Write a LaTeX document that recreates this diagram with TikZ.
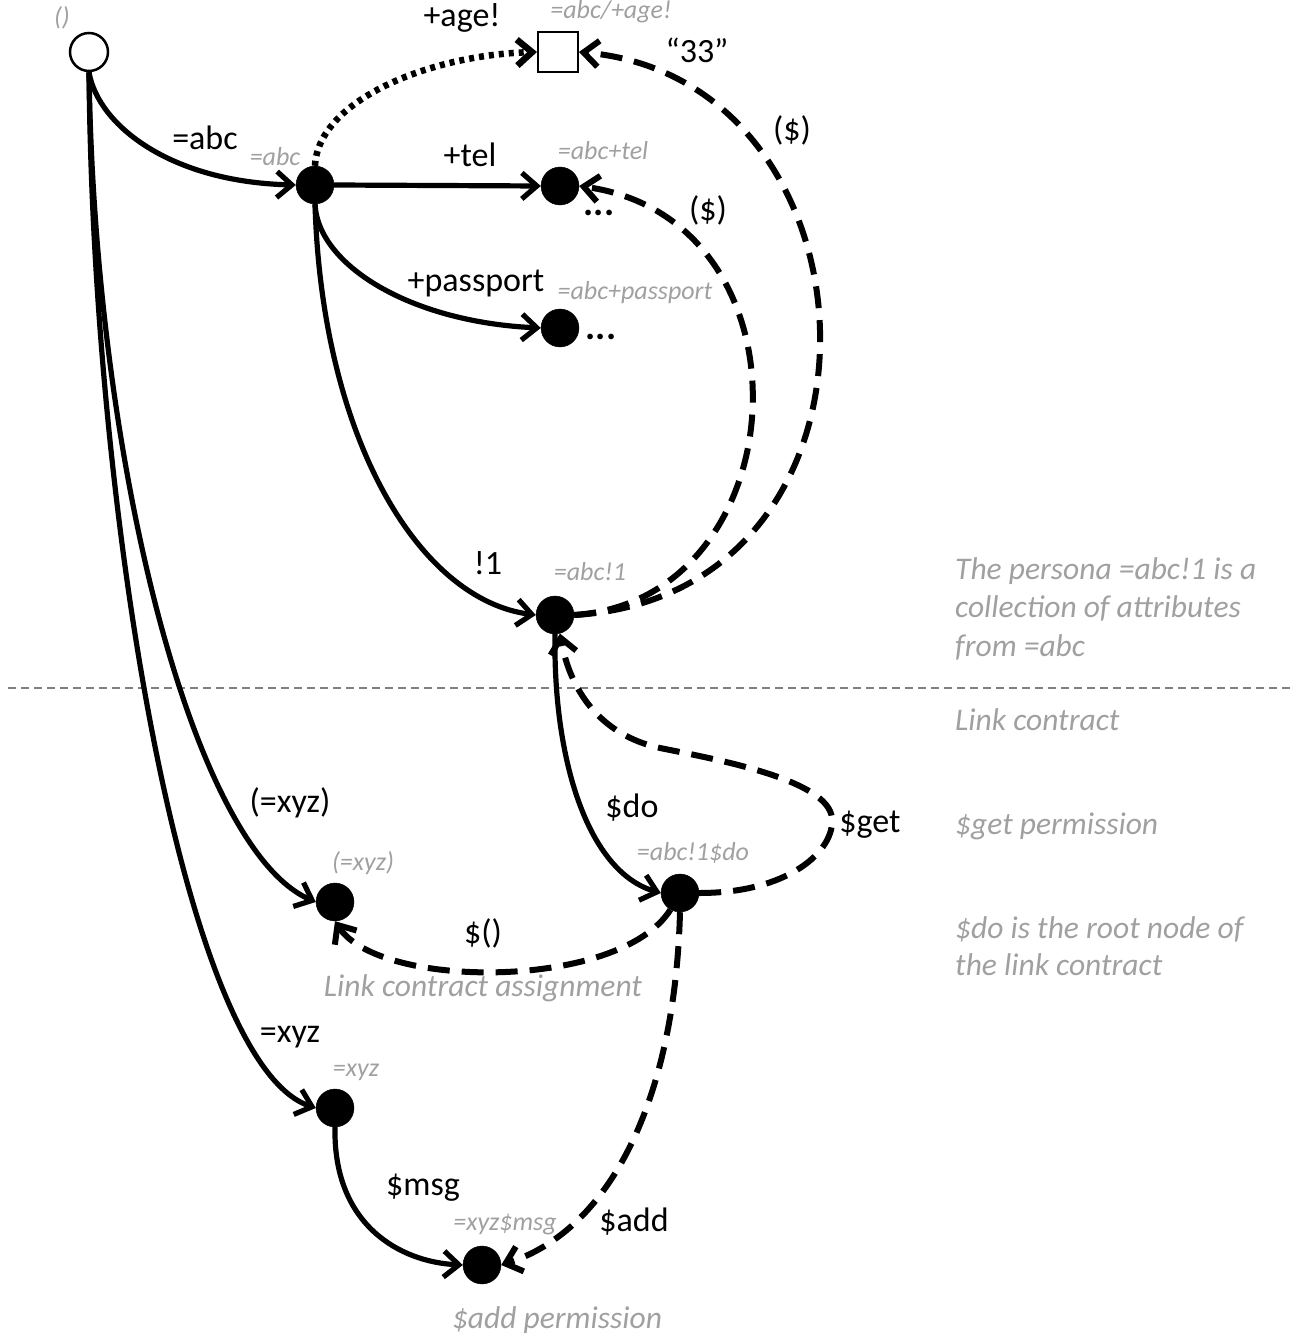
\documentclass[tikz,border=0pt]{standalone}
\usepackage{fontspec}
\setmainfont{Carlito}
\usetikzlibrary{arrows.meta}
\definecolor{lblgray}{RGB}{160,160,160}
\tikzset{
  dotnode/.style={circle, fill=black, draw=black, minimum size=38pt, inner sep=0pt},
  rootnode/.style={circle, fill=white, draw=black, line width=2.5pt, minimum size=38pt, inner sep=0pt},
  sqnode/.style={rectangle, fill=white, draw=black, line width=2pt, minimum size=40pt, inner sep=0pt},
  tip/.tip={Straight Barb[length=15pt, width=26pt]},
  edge/.style={line width=5.2pt, -tip},
  dashedge/.style={line width=6pt, dash pattern=on 22pt off 12pt, -tip},
  dotedge/.style={line width=6.5pt, dash pattern=on 5pt off 5pt, -tip},
  lbl/.style={inner sep=0pt, font=\fontsize{34}{37}\selectfont},
  glbl/.style={inner sep=0pt, text=lblgray, font=\fontsize{26}{30}\selectfont\itshape},
  note/.style={inner sep=0pt, text=lblgray, anchor=west, font=\fontsize{31.5}{36}\selectfont\itshape}
}
\begin{document}
\begin{tikzpicture}[x=1pt, y=-1pt]
\useasboundingbox (0,0) rectangle (1296,1340);
% nodes
\node[rootnode] (root) at (89,52) {};
\node[dotnode] (abc) at (315,185) {};
\node[sqnode] (age) at (558,52) {};
\node[dotnode] (tel) at (560,186) {};
\node[dotnode] (pass) at (560,328) {};
\node[dotnode] (abc1) at (555,615) {};
\node[dotnode] (pxyz) at (335,902) {};
\node[dotnode] (do) at (680,893) {};
\node[dotnode] (xyz) at (335,1108) {};
\node[dotnode] (msg) at (482,1265) {};
% divider
\coordinate (dl) at (8,688);
\coordinate (dr) at (1290,688);
\draw[lblgray!80!black, line width=1.2pt, dash pattern=on 8pt off 5pt] (dl) -- (dr);
% solid edges
\draw[edge] (root.south) .. controls (98,125) and (170,182) .. (abc.west);
\draw[edge] (root.south) .. controls (95,470) and (195,850) .. (pxyz.west);
\draw[edge] (root.south) .. controls (93,520) and (185,1065) .. (xyz.west);
\draw[edge] (abc.east) -- (tel.west);
\draw[edge] (abc.south) .. controls (318,265) and (410,322) .. (pass.west);
\draw[edge] (abc.south) .. controls (322,440) and (420,600) .. (abc1.west);
\draw[edge] (abc1.south) .. controls (553,760) and (588,872) .. (do.west);
\draw[edge] (xyz.south) .. controls (333,1225) and (400,1262) .. (msg.west);
% dotted
\draw[dotedge] (abc.north) .. controls (318,100) and (430,55) .. (age.west);
% dashed
\draw[dashedge] (abc1.east) .. controls (800,600) and (820,220) .. (tel.east);
\draw[dashedge] (abc1.east) .. controls (910,595) and (890,80) .. (age.east);
\draw[dashedge] (do.east) .. controls (790,893) and (835,850) .. (832,818) .. controls (828,780) and (720,760) .. (660,748) .. controls (600,735) and (570,690) .. (abc1.-75);
\draw[dashedge] (do.-120) .. controls (620,990) and (380,990) .. (pxyz.-90);
\draw[dashedge] (do.south) .. controls (675,1100) and (610,1230) .. (msg.east);
% black labels
\node[lbl] (l-abc) at (205,138) {=abc};
\node[lbl] (l-age) at (462,18) {+age!};
\node[lbl] (l-33) at (697,50) {“33”};
\node[lbl] (l-d1) at (792,130) {(\$)};
\node[lbl] (l-tel) at (470,155) {+tel};
\node[lbl] (l-d2) at (708,210) {(\$)};
\node[lbl, font=\fontsize{38}{40}\selectfont\bfseries] (l-dots1) at (599,213) {...};
\node[lbl] (l-pass) at (476,283) {+passport};
\node[lbl, font=\fontsize{38}{40}\selectfont\bfseries] (l-dots2) at (601,337) {...};
\node[lbl] (l-1) at (488,563) {!1};
\node[lbl] (l-do) at (632,808) {\$do};
\node[lbl] (l-get) at (870,825) {\$get};
\node[lbl] (l-pxyz) at (290,803) {(=xyz)};
\node[lbl] (l-dpar) at (483,933) {\$()};
\node[lbl] (l-xyz) at (290,1037) {=xyz};
\node[lbl] (l-msg) at (423,1188) {\$msg};
\node[lbl] (l-add) at (634,1222) {\$add};
% gray small labels
\node[glbl] (g-root) at (62,18) {()};
\node[glbl] (g-abc) at (275,157) {=abc};
\node[glbl] (g-age) at (611,12) {=abc/+age!};
\node[glbl] (g-tel) at (603,151) {=abc+tel};
\node[glbl] (g-pass) at (635,293) {=abc+passport};
\node[glbl] (g-abc1) at (590,572) {=abc!1};
\node[glbl] (g-do) at (693,853) {=abc!1\$do};
\node[glbl] (g-pxyz) at (363,863) {(=xyz)};
\node[glbl] (g-xyz) at (356,1072) {=xyz};
\node[glbl] (g-msg) at (505,1225) {=xyz\$msg};
% notes
\node[note, anchor=center] (n-lca) at (483,988) {Link contract assignment};
\node[note, anchor=center] (n-add) at (557,1320) {\$add permission};
\node[note] (n-p1) at (955,571) {The persona =abc!1 is a};
\node[note] (n-p2) at (955,608) {collection of attributes};
\node[note] (n-p3) at (955,647) {from =abc};
\node[note] (n-lc) at (955,720) {Link contract};
\node[note] (n-get) at (955,826) {\$get permission};
\node[note] (n-do1) at (955,929) {\$do is the root node of};
\node[note] (n-do2) at (955,965) {the link contract};
\end{tikzpicture}
\end{document}
